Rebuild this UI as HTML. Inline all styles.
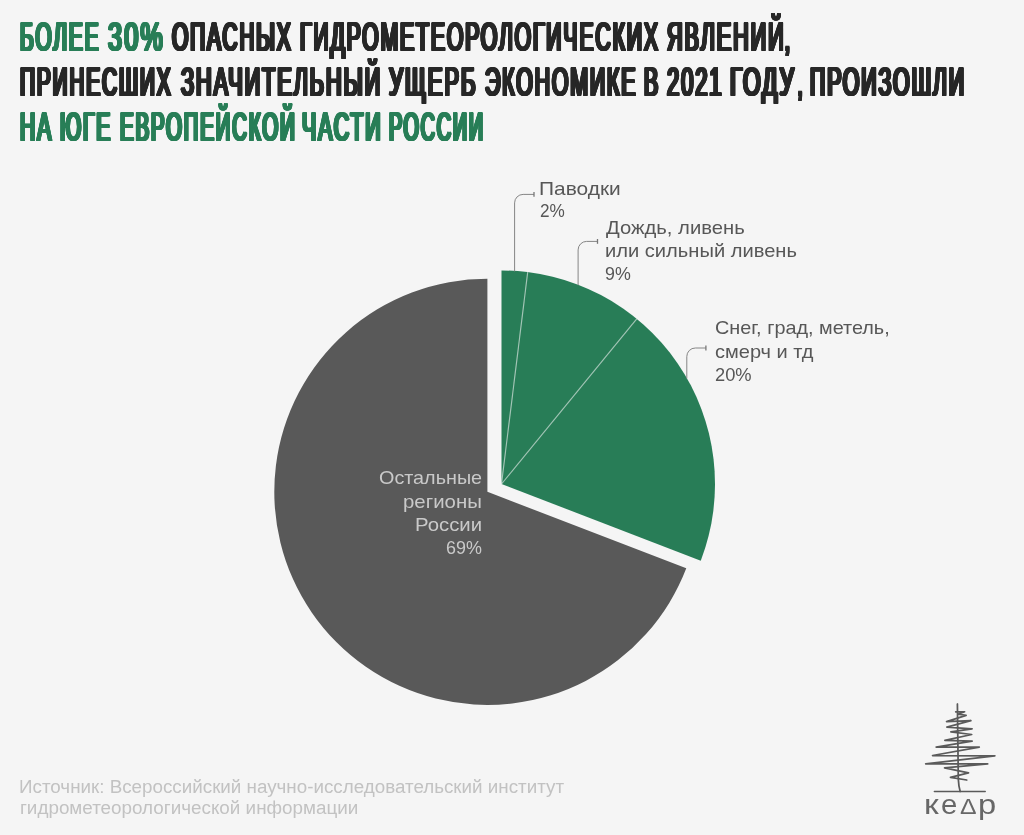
<!DOCTYPE html>
<html lang="ru">
<head>
<meta charset="utf-8">
<title>Опасные гидрометеорологические явления — 2021</title>
<style>
html,body{margin:0;padding:0}
body{width:1024px;height:835px;background:#f5f5f5;position:relative;overflow:hidden;font-family:"Liberation Sans",sans-serif}
.chart{position:absolute;left:0;top:0;width:1024px;height:835px;display:block}
h1,p,div.lbl,div.logo{margin:0;padding:0;font-weight:normal;font-size:inherit}
span.w,span.l,span.f,span.k{position:absolute;white-space:nowrap;line-height:1;transform-origin:0 0;display:block}
span.w{font-size:42px;font-weight:normal;color:#272727;letter-spacing:3.6px}
span.w.g{color:#287e57}
span.l{font-size:19px;color:#575757}
.in span.l{color:#c9c9c9}
span.f{font-size:18px;color:#c2c2c2}
span.k{color:#676767}
</style>
</head>
<body>
<svg class="chart" width="1024" height="835" viewBox="0 0 1024 835">
<path d="M487.4 491.8L686.279 568.342A213.1 213.1 0 1 1 487.4 278.7Z" fill="#595959"/>
<path d="M501.5 484L501.5 270.5A213.5 213.5 0 0 1 700.753 560.685Z" fill="#287d57"/>
<g stroke="#f5f5f5" stroke-opacity="0.6" stroke-width="1.15" fill="none">
<path d="M501.5 484L527.704 272.114"/>
<path d="M501.5 484L636.727 318.785"/>
</g>
<g stroke="#858585" stroke-width="1" fill="none">
<path d="M514.6 271.402V202.9A8.5 8.5 0 0 1 523.1 194.4H534"/>
<path d="M578.1 285.215V249.9A8.5 8.5 0 0 1 586.6 241.4H597.5"/>
<path d="M686.8 378.452V356.5A8.5 8.5 0 0 1 695.3 348H705.9"/>
</g>
<g stroke="#777777" stroke-width="1.3" fill="none">
<path d="M534 192V196.8"/>
<path d="M597.5 239V243.8"/>
<path d="M705.9 345.6V350.4"/>
</g>
<g stroke="#5a5a5a" stroke-width="1.75" fill="none" stroke-linecap="round" stroke-linejoin="round">
<path d="M955.7 711.8L964.6 711.8L958.1 714.2L966.1 715.4L946.6 721.6L970.9 720.7L946.9 727.1L972.1 728.8L950.9 731.9L971.7 734.5L944.9 740.3L972.1 741.1L936.2 747.1L979.3 747.1L932.6 755.5L994.9 755.8L925.7 763.9L987.7 763.9L944.6 767.8L968.5 772.8L950.5 777.4L966.7 780"/>
<path d="M957.4 704L958.3 779Q958.6 786 960.2 791.5"/>
<path d="M934.3 791.5H985.3" stroke-width="1.3"/>
</g>
</svg>
<h1>
<span class="w g" style="left:20.16px;top:15px;transform-origin:0 35px;transform:translateY(0.5px) scale(0.5,0.968);text-shadow:2.401px 0px 0 currentColor,-2.401px 0px 0 currentColor,1.2px 0px 0 currentColor,-1.2px 0px 0 currentColor,0px 0.516px 0 currentColor,0px -0.516px 0 currentColor,2.401px 0.516px 0 currentColor,2.401px -0.516px 0 currentColor,-2.401px 0.516px 0 currentColor,-2.401px -0.516px 0 currentColor">БОЛЕЕ</span>
<span class="w g" style="left:107.913px;top:15px;transform-origin:0 35px;transform:translateY(0.5px) scale(0.6,0.968);text-shadow:2.001px 0px 0 currentColor,-2.001px 0px 0 currentColor,1px 0px 0 currentColor,-1px 0px 0 currentColor,0px 0.516px 0 currentColor,0px -0.516px 0 currentColor,2.001px 0.516px 0 currentColor,2.001px -0.516px 0 currentColor,-2.001px 0.516px 0 currentColor,-2.001px -0.516px 0 currentColor">30%</span>
<span class="w" style="left:171.515px;top:15px;transform-origin:0 35px;transform:translateY(0.5px) scale(0.5,0.968);text-shadow:2.399px 0px 0 currentColor,-2.399px 0px 0 currentColor,1.199px 0px 0 currentColor,-1.199px 0px 0 currentColor,0px 0.516px 0 currentColor,0px -0.516px 0 currentColor,2.399px 0.516px 0 currentColor,2.399px -0.516px 0 currentColor,-2.399px 0.516px 0 currentColor,-2.399px -0.516px 0 currentColor">ОПАСНЫХ</span>
<span class="w" style="left:300.041px;top:15px;transform-origin:0 35px;transform:translateY(0.5px) scale(0.506,0.968);text-shadow:2.373px 0px 0 currentColor,-2.373px 0px 0 currentColor,1.187px 0px 0 currentColor,-1.187px 0px 0 currentColor,0px 0.516px 0 currentColor,0px -0.516px 0 currentColor,2.373px 0.516px 0 currentColor,2.373px -0.516px 0 currentColor,-2.373px 0.516px 0 currentColor,-2.373px -0.516px 0 currentColor">ГИДРОМЕТЕОРОЛОГИЧЕСКИХ</span>
<span class="w" style="left:667.431px;top:15px;transform-origin:0 35px;transform:translateY(0.5px) scale(0.517,0.968);text-shadow:2.319px 0px 0 currentColor,-2.319px 0px 0 currentColor,1.16px 0px 0 currentColor,-1.16px 0px 0 currentColor,0px 0.516px 0 currentColor,0px -0.516px 0 currentColor,2.319px 0.516px 0 currentColor,2.319px -0.516px 0 currentColor,-2.319px 0.516px 0 currentColor,-2.319px -0.516px 0 currentColor">ЯВЛЕНИЙ</span><span class="w" style="left:785.188px;top:15px;transform-origin:0 35px;transform:translateY(0.5px) scale(0.4,0.968);text-shadow:3px 0px 0 currentColor,-3px 0px 0 currentColor,1.5px 0px 0 currentColor,-1.5px 0px 0 currentColor,0px 0.516px 0 currentColor,0px -0.516px 0 currentColor,3px 0.516px 0 currentColor,3px -0.516px 0 currentColor,-3px 0.516px 0 currentColor,-3px -0.516px 0 currentColor">,</span>
<span class="w" style="left:20.165px;top:60px;transform-origin:0 35px;transform:translateY(0.5px) scale(0.498,0.968);text-shadow:2.408px 0px 0 currentColor,-2.408px 0px 0 currentColor,1.204px 0px 0 currentColor,-1.204px 0px 0 currentColor,0px 0.516px 0 currentColor,0px -0.516px 0 currentColor,2.408px 0.516px 0 currentColor,2.408px -0.516px 0 currentColor,-2.408px 0.516px 0 currentColor,-2.408px -0.516px 0 currentColor">ПРИНЕСШИХ</span>
<span class="w" style="left:180.92px;top:60px;transform-origin:0 35px;transform:translateY(0.5px) scale(0.518,0.968);text-shadow:2.315px 0px 0 currentColor,-2.315px 0px 0 currentColor,1.158px 0px 0 currentColor,-1.158px 0px 0 currentColor,0px 0.516px 0 currentColor,0px -0.516px 0 currentColor,2.315px 0.516px 0 currentColor,2.315px -0.516px 0 currentColor,-2.315px 0.516px 0 currentColor,-2.315px -0.516px 0 currentColor">ЗНАЧИТЕЛЬНЫЙ</span>
<span class="w" style="left:389.103px;top:60px;transform-origin:0 35px;transform:translateY(0.5px) scale(0.528,0.968);text-shadow:2.272px 0px 0 currentColor,-2.272px 0px 0 currentColor,1.136px 0px 0 currentColor,-1.136px 0px 0 currentColor,0px 0.516px 0 currentColor,0px -0.516px 0 currentColor,2.272px 0.516px 0 currentColor,2.272px -0.516px 0 currentColor,-2.272px 0.516px 0 currentColor,-2.272px -0.516px 0 currentColor">УЩЕРБ</span>
<span class="w" style="left:485.2px;top:60px;transform-origin:0 35px;transform:translateY(0.5px) scale(0.508,0.968);text-shadow:2.363px 0px 0 currentColor,-2.363px 0px 0 currentColor,1.181px 0px 0 currentColor,-1.181px 0px 0 currentColor,0px 0.516px 0 currentColor,0px -0.516px 0 currentColor,2.363px 0.516px 0 currentColor,2.363px -0.516px 0 currentColor,-2.363px 0.516px 0 currentColor,-2.363px -0.516px 0 currentColor">ЭКОНОМИКЕ</span>
<span class="w" style="left:644.286px;top:60px;transform-origin:0 35px;transform:translateY(0.5px) scale(0.507,0.968);text-shadow:2.366px 0px 0 currentColor,-2.366px 0px 0 currentColor,1.183px 0px 0 currentColor,-1.183px 0px 0 currentColor,0px 0.516px 0 currentColor,0px -0.516px 0 currentColor,2.366px 0.516px 0 currentColor,2.366px -0.516px 0 currentColor,-2.366px 0.516px 0 currentColor,-2.366px -0.516px 0 currentColor">В</span>
<span class="w" style="left:667.421px;top:60px;transform-origin:0 35px;transform:translateY(0.5px) scale(0.523,0.968);text-shadow:2.296px 0px 0 currentColor,-2.296px 0px 0 currentColor,1.148px 0px 0 currentColor,-1.148px 0px 0 currentColor,0px 0.516px 0 currentColor,0px -0.516px 0 currentColor,2.296px 0.516px 0 currentColor,2.296px -0.516px 0 currentColor,-2.296px 0.516px 0 currentColor,-2.296px -0.516px 0 currentColor">2021</span>
<span class="w" style="left:730.433px;top:60px;transform-origin:0 35px;transform:translateY(0.5px) scale(0.539,0.968);text-shadow:2.228px 0px 0 currentColor,-2.228px 0px 0 currentColor,1.114px 0px 0 currentColor,-1.114px 0px 0 currentColor,0px 0.516px 0 currentColor,0px -0.516px 0 currentColor,2.228px 0.516px 0 currentColor,2.228px -0.516px 0 currentColor,-2.228px 0.516px 0 currentColor,-2.228px -0.516px 0 currentColor">ГОДУ</span><span class="w" style="left:797.812px;top:60px;transform-origin:0 35px;transform:translateY(0.5px) scale(0.362,0.968);text-shadow:3.316px 0px 0 currentColor,-3.316px 0px 0 currentColor,1.658px 0px 0 currentColor,-1.658px 0px 0 currentColor,0px 0.516px 0 currentColor,0px -0.516px 0 currentColor,3.316px 0.516px 0 currentColor,3.316px -0.516px 0 currentColor,-3.316px 0.516px 0 currentColor,-3.316px -0.516px 0 currentColor">,</span>
<span class="w" style="left:809.83px;top:60px;transform-origin:0 35px;transform:translateY(0.5px) scale(0.509,0.968);text-shadow:2.358px 0px 0 currentColor,-2.358px 0px 0 currentColor,1.179px 0px 0 currentColor,-1.179px 0px 0 currentColor,0px 0.516px 0 currentColor,0px -0.516px 0 currentColor,2.358px 0.516px 0 currentColor,2.358px -0.516px 0 currentColor,-2.358px 0.516px 0 currentColor,-2.358px -0.516px 0 currentColor">ПРОИЗОШЛИ</span>
<span class="w g" style="left:20.139px;top:105px;transform-origin:0 35px;transform:translateY(0.5px) scale(0.506,0.968);text-shadow:2.371px 0px 0 currentColor,-2.371px 0px 0 currentColor,1.185px 0px 0 currentColor,-1.185px 0px 0 currentColor,0px 0.516px 0 currentColor,0px -0.516px 0 currentColor,2.371px 0.516px 0 currentColor,2.371px -0.516px 0 currentColor,-2.371px 0.516px 0 currentColor,-2.371px -0.516px 0 currentColor">НА</span>
<span class="w g" style="left:60.458px;top:105px;transform-origin:0 35px;transform:translateY(0.5px) scale(0.5,0.968);text-shadow:2.399px 0px 0 currentColor,-2.399px 0px 0 currentColor,1.199px 0px 0 currentColor,-1.199px 0px 0 currentColor,0px 0.516px 0 currentColor,0px -0.516px 0 currentColor,2.399px 0.516px 0 currentColor,2.399px -0.516px 0 currentColor,-2.399px 0.516px 0 currentColor,-2.399px -0.516px 0 currentColor">ЮГЕ</span>
<span class="w g" style="left:119.697px;top:105px;transform-origin:0 35px;transform:translateY(0.5px) scale(0.489,0.968);text-shadow:2.456px 0px 0 currentColor,-2.456px 0px 0 currentColor,1.228px 0px 0 currentColor,-1.228px 0px 0 currentColor,0px 0.516px 0 currentColor,0px -0.516px 0 currentColor,2.456px 0.516px 0 currentColor,2.456px -0.516px 0 currentColor,-2.456px 0.516px 0 currentColor,-2.456px -0.516px 0 currentColor">ЕВРОПЕЙСКОЙ</span>
<span class="w g" style="left:301.625px;top:105px;transform-origin:0 35px;transform:translateY(0.5px) scale(0.51,0.968);text-shadow:2.351px 0px 0 currentColor,-2.351px 0px 0 currentColor,1.175px 0px 0 currentColor,-1.175px 0px 0 currentColor,0px 0.516px 0 currentColor,0px -0.516px 0 currentColor,2.351px 0.516px 0 currentColor,2.351px -0.516px 0 currentColor,-2.351px 0.516px 0 currentColor,-2.351px -0.516px 0 currentColor">ЧАСТИ</span>
<span class="w g" style="left:388.747px;top:105px;transform-origin:0 35px;transform:translateY(0.5px) scale(0.473,0.968);text-shadow:2.535px 0px 0 currentColor,-2.535px 0px 0 currentColor,1.267px 0px 0 currentColor,-1.267px 0px 0 currentColor,0px 0.516px 0 currentColor,0px -0.516px 0 currentColor,2.535px 0.516px 0 currentColor,2.535px -0.516px 0 currentColor,-2.535px 0.516px 0 currentColor,-2.535px -0.516px 0 currentColor">РОССИИ</span>
</h1>
<div class="lbl">
<span class="l" style="left:539.066px;top:178.5px;transform:scaleX(1.101)">Паводки</span>
<span class="l" style="left:539.695px;top:201.4px;transform:scaleX(0.904)">2%</span>
</div>
<div class="lbl">
<span class="l" style="left:605.5px;top:218.3px;transform:scaleX(1.065)">Дождь, ливень</span>
<span class="l" style="left:604.942px;top:241.4px;transform:scaleX(1.059)">или сильный ливень</span>
<span class="l" style="left:604.564px;top:264.4px;transform:scaleX(0.938)">9%</span>
</div>
<div class="lbl">
<span class="l" style="left:714.77px;top:318.3px;transform:scaleX(1.044)">Снег, град, метель,</span>
<span class="l" style="left:714.974px;top:341.7px;transform:scaleX(1.054)">смерч и тд</span>
<span class="l" style="left:714.843px;top:365.1px;transform:scaleX(0.963)">20%</span>
</div>
<div class="lbl in">
<span class="l" style="left:378.873px;top:468.1px;transform:scaleX(1.041)">Остальные</span>
<span class="l" style="left:403.424px;top:491.6px;transform:scaleX(1.074)">регионы</span>
<span class="l" style="left:415.11px;top:514.9px;transform:scaleX(1.071)">России</span>
<span class="l" style="left:445.66px;top:538.4px;transform:scaleX(0.943)">69%</span>
</div>
<p>
<span class="f" style="left:19.432px;top:778.3px;transform:scaleX(1.044)">Источник: Всероссийский научно-исследовательский институт</span>
<span class="f" style="left:19.723px;top:799.3px;transform:scaleX(1.047)">гидрометеорологической информации</span>
</p>
<div class="logo" title="кедр"><span class="k" style="left:924.004px;top:790.8px;transform:scaleX(1.233);font-size:27.2px">к</span><span class="k" style="left:941.184px;top:790.8px;transform:scaleX(1.078);font-size:27.2px">е</span><span class="k" style="left:960.212px;top:795.8px;transform:scaleX(1.127);font-size:22px">Δ</span><span class="k" style="left:978.459px;top:790.8px;transform:scaleX(1.201);font-size:27.2px">р</span></div>
</body>
</html>
